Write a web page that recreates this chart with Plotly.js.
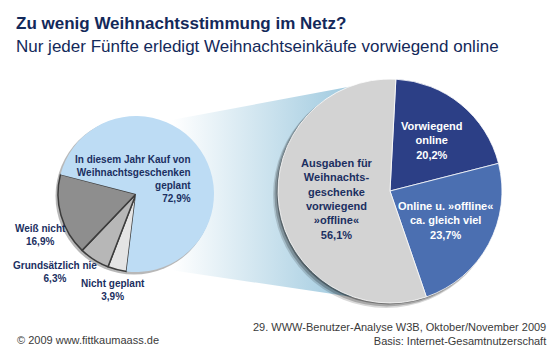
<!DOCTYPE html>
<html><head><meta charset="utf-8">
<script src="https://cdn.plot.ly/plotly-3.0.1.min.js"></script>
<style>html,body{margin:0;padding:0;background:#fff}</style>
</head><body><div id="chart" style="width:560px;height:350px"></div>
<script>
// ---- data ----
const titleText = "Zu wenig Weihnachtsstimmung im Netz?";
const subtitleText = "Nur jeder Fünfte erledigt Weihnachtseinkäufe vorwiegend online";
const leftLabels = ["Nicht geplant", "Grundsätzlich nie", "Weiß nicht", "In diesem Jahr Kauf von<br>Weihnachtsgeschenken<br>geplant"];
const leftValues = [3.9, 6.3, 16.9, 72.9];
const rightLabels = ["Vorwiegend<br>online", "Online u. »offline«<br>ca. gleich viel", "Ausgaben für<br>Weihnachts-<br>geschenke<br>vorwiegend<br>»offline«"];
const rightValues = [20.2, 23.7, 56.1];
const sourceText = "29. WWW-Benutzer-Analyse W3B, Oktober/November 2009<br>Basis: Internet-Gesamtnutzerschaft";
const copyrightText = "© 2009 www.fittkaumaass.de";

// ---- layout helpers ----
const W = 560, H = 350;
const px = (x) => x / W, py = (y) => 1 - y / H;
const dom = (cx, cy, r) => ({x: [(cx - r) / W, (cx + r) / W], y: [1 - (cy + r) / H, 1 - (cy - r) / H]});
const fmt = (v) => v.toFixed(1).replace('.', ',') + '%';
const FONT = "Liberation Sans, Arial, sans-serif";
const NAVY = "#1b2f61";

const L = {cx: 136, cy: 194, r: 78};
const R = {cx: 390, cy: 191, r: 112};

function shadowPie(c, dx, dy, dr, color) {
  return {type: 'pie', values: [1], labels: ['shadow'], sort: false, textinfo: 'none',
    hoverinfo: 'skip', showlegend: false, marker: {colors: [color], line: {width: 0}},
    domain: dom(c.cx + dx, c.cy + dy, c.r + dr)};
}

const traces = [
  { // connector funnel (decorative)
    type: 'scatter', x: [150, 380, 380, 150], y: [124, 81, 301, 267], mode: 'lines',
    fill: 'toself', line: {width: 0}, fillcolor: '#d4e8f2', hoverinfo: 'skip', showlegend: false,
    fillgradient: {type: 'horizontal', colorscale: [[0, 'rgba(255,255,255,1)'], [1, '#9cc8de']], start: 172, stop: 356}
  },
  shadowPie(L, -2, 2, 0.5, 'rgba(0,0,0,0.28)'),
  {
    type: 'pie', values: leftValues, labels: leftLabels, sort: false, direction: 'clockwise', rotation: 187,
    textinfo: 'none', hoverinfo: 'skip', showlegend: false, domain: dom(L.cx, L.cy, L.r),
    marker: {colors: ['#e4e4e4', '#b7b7b7', '#8e8e8e', '#bddcf4'],
             line: {color: ['#3c3c3c', '#3c3c3c', '#3c3c3c', 'rgba(0,0,0,0)'], width: [1.5, 1.5, 1.5, 0]}}
  },
  shadowPie(R, -4, 4, 1, 'rgba(0,0,0,0.15)'),
  shadowPie(R, -3, 3, 0.5, 'rgba(0,0,0,0.22)'),
  shadowPie(R, -1.5, 1.5, 0, 'rgba(0,0,0,0.32)'),
  {
    type: 'pie', values: rightValues, labels: rightLabels, sort: false, direction: 'clockwise', rotation: 3,
    textinfo: 'none', hoverinfo: 'skip', showlegend: false, domain: dom(R.cx, R.cy, R.r),
    marker: {colors: ['#2c3f86', '#4b6fb1', '#d3d3d3'], line: {color: '#ffffff', width: 0.8}}
  }
];

function ann(text, x, y, xanchor, align, size, color, bold) {
  return {text: text, x: px(x), y: py(y), xref: 'paper', yref: 'paper', xanchor: xanchor, yanchor: 'middle',
    align: align, showarrow: false, font: {family: FONT, size: size, color: color, weight: bold ? 'bold' : 'normal'}};
}
const lab = (labels, values, i) => labels[i] + '<br>' + fmt(values[i]);

const annotations = [
  ann(titleText, 14, 23.5, 'left', 'left', 17, '#13295a', true),
  ann(subtitleText, 14, 46, 'left', 'left', 17, '#13295a', false),
  ann(lab(leftLabels, leftValues, 3), 193, 179, 'right', 'right', 10, NAVY, true),
  ann(lab(leftLabels, leftValues, 2), 40, 234.5, 'center', 'center', 10, NAVY, true),
  ann(lab(leftLabels, leftValues, 1), 55, 272, 'center', 'center', 10, NAVY, true),
  ann(lab(leftLabels, leftValues, 0), 113, 290, 'center', 'center', 10, NAVY, true),
  ann(lab(rightLabels, rightValues, 0), 432, 141, 'center', 'center', 11, '#ffffff', true),
  ann(lab(rightLabels, rightValues, 1), 445, 220.5, 'center', 'center', 11, '#ffffff', true),
  ann(lab(rightLabels, rightValues, 2), 337, 199.5, 'center', 'center', 11, NAVY, true),
  ann(sourceText, 548, 333.5, 'right', 'right', 11, '#3a3a3a', false),
  ann(copyrightText, 15, 340, 'left', 'left', 11, '#3a3a3a', false)
];

const layout = {
  width: W, height: H, margin: {l: 0, r: 0, t: 0, b: 0}, paper_bgcolor: '#ffffff', plot_bgcolor: '#ffffff',
  showlegend: false,
  xaxis: {range: [0, W], visible: false, fixedrange: true, domain: [0, 1]},
  yaxis: {range: [H, 0], visible: false, fixedrange: true, domain: [0, 1]},
  annotations: annotations
};
Plotly.newPlot('chart', traces, layout, {displayModeBar: false, staticPlot: true});
</script></body></html>
